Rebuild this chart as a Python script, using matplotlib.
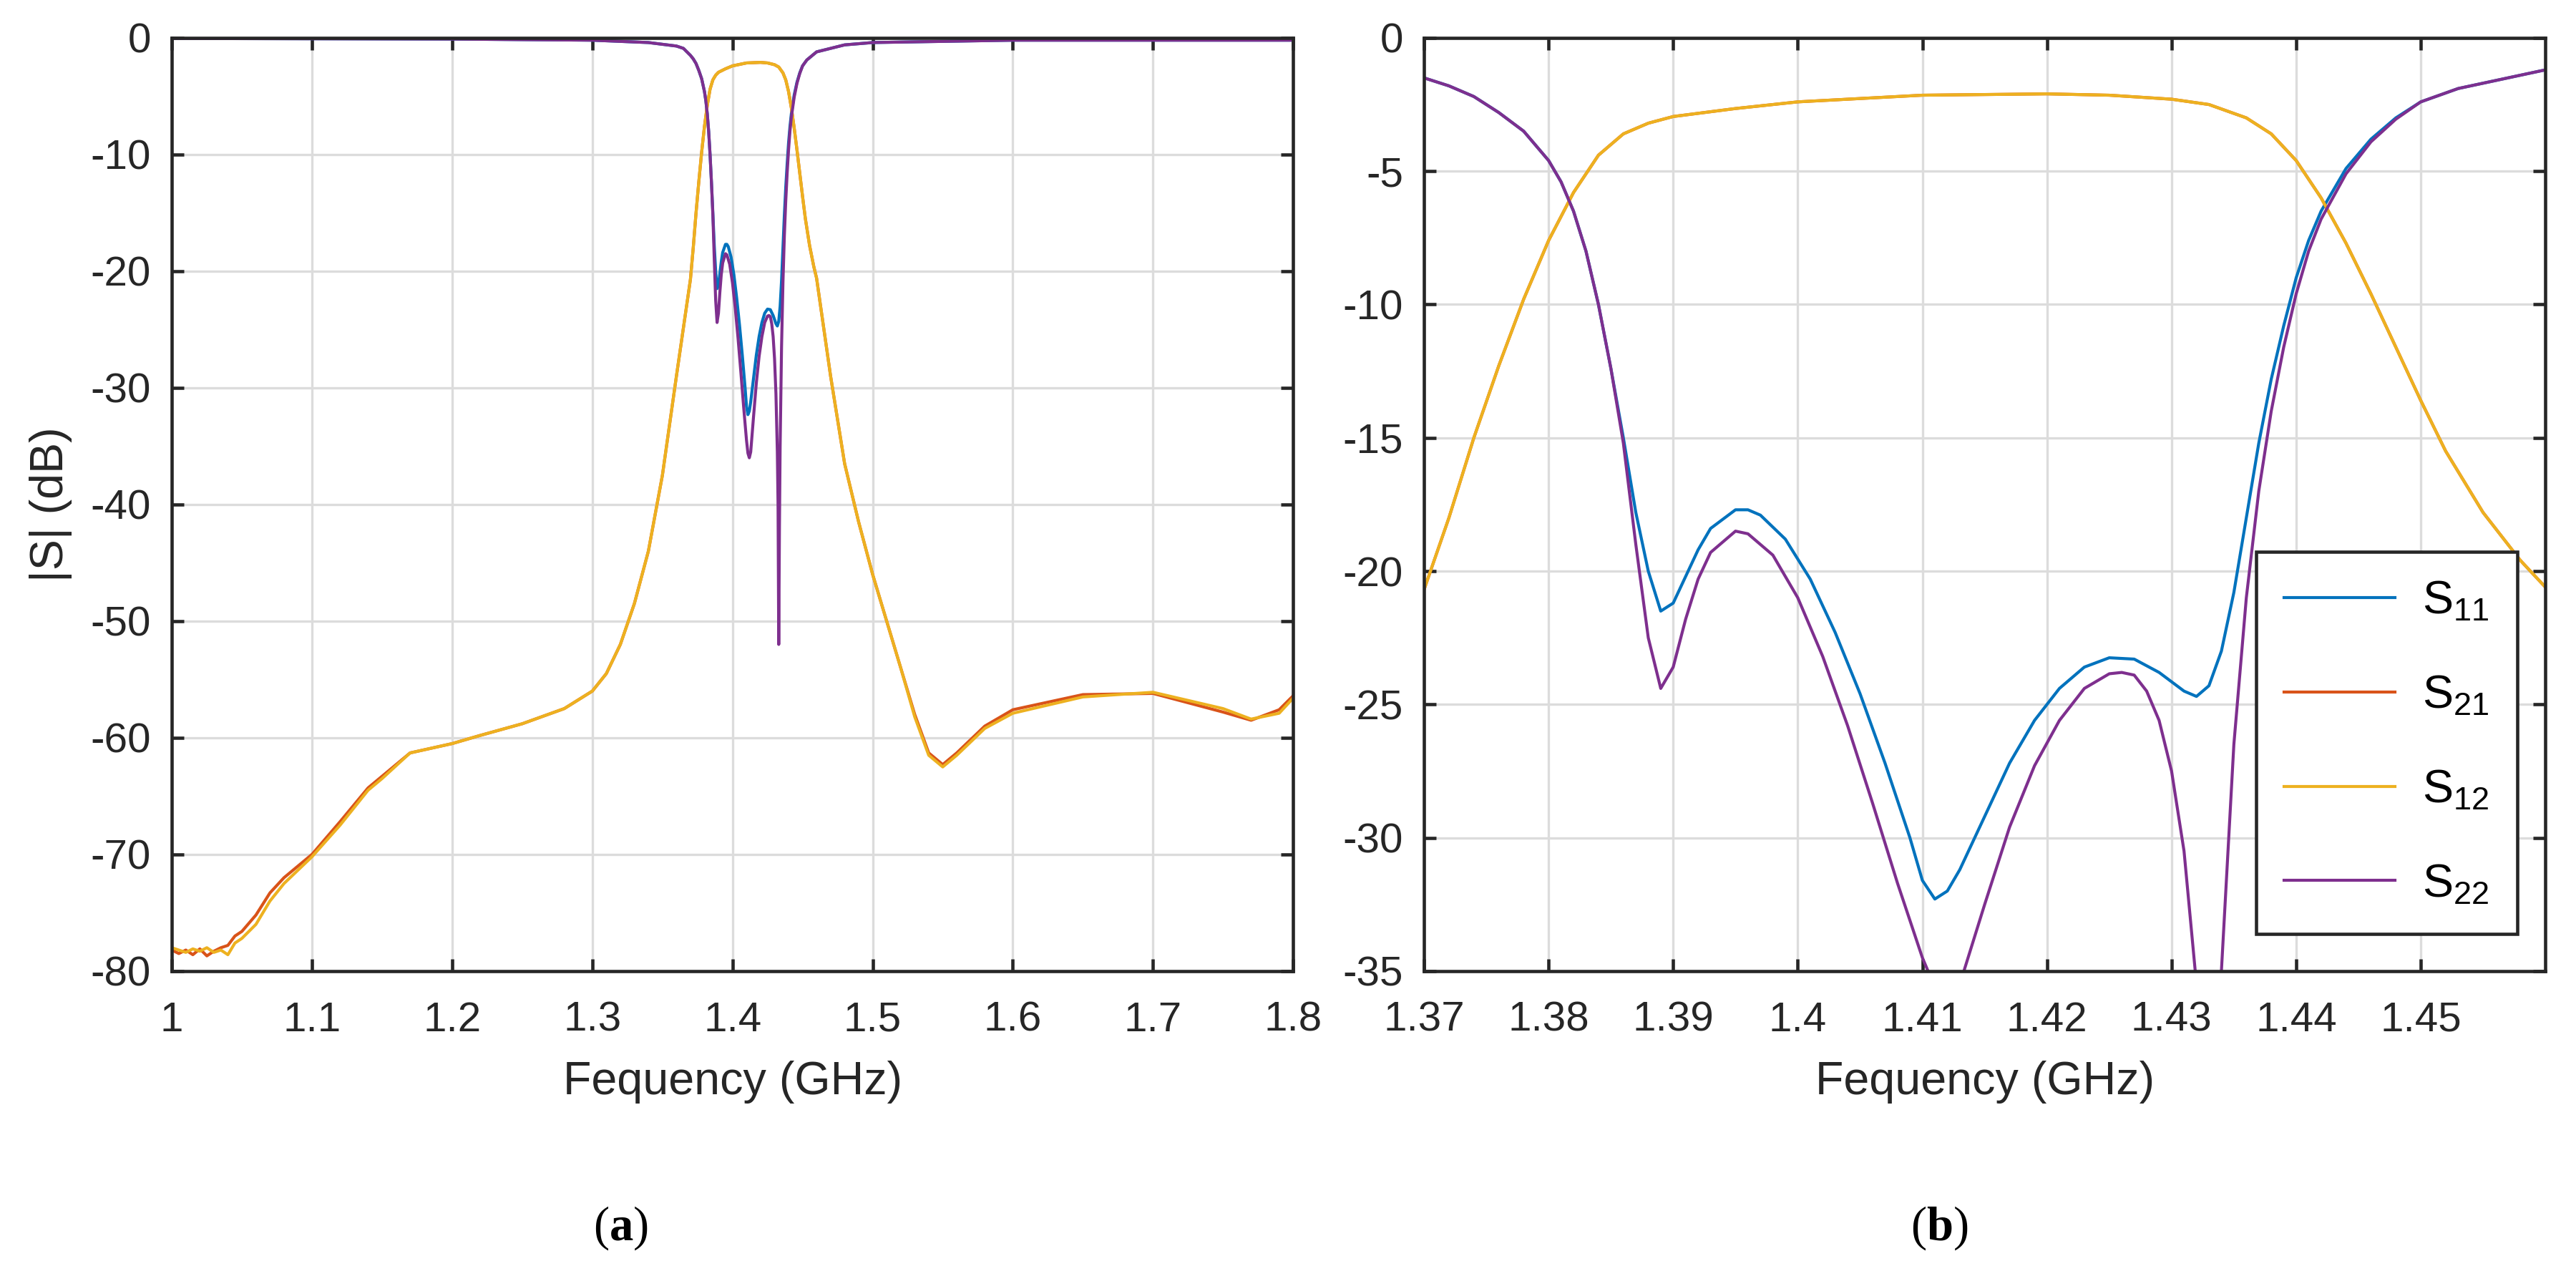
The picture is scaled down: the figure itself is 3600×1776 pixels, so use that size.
import numpy as np
import matplotlib
matplotlib.use("Agg")
import matplotlib.pyplot as plt

plt.rcParams['font.family'] = ['Liberation Sans', 'DejaVu Sans']
plt.rcParams['mathtext.fontset'] = 'custom'
plt.rcParams['mathtext.rm'] = 'Liberation Sans'
plt.rcParams['mathtext.bf'] = 'Liberation Serif:bold'

# transmission data (GHz, dB)
f_trans = [1.0, 1.005, 1.01, 1.015, 1.02, 1.025, 1.03, 1.035, 1.04, 1.045, 1.05, 1.06, 1.07, 1.08, 1.1, 1.12, 1.14, 1.15, 1.17, 1.2, 1.22, 1.25, 1.28, 1.3,
           1.31, 1.32, 1.33, 1.34, 1.35, 1.36,
           1.37, 1.372, 1.374, 1.376, 1.378, 1.38, 1.382, 1.384, 1.386, 1.388, 1.39, 1.395, 1.40, 1.41, 1.42, 1.425,
           1.43, 1.433, 1.436, 1.438, 1.44, 1.442, 1.444, 1.446, 1.448, 1.45, 1.452, 1.455, 1.458, 1.46,
           1.47, 1.48, 1.49, 1.5, 1.52, 1.53, 1.54, 1.55, 1.56, 1.58, 1.6, 1.65, 1.7, 1.75, 1.77, 1.79, 1.8]
s21 = [-78.2, -78.5, -78.2, -78.6, -78.1, -78.7, -78.3, -78.0, -77.8, -77.0, -76.6, -75.2, -73.3, -72.0, -70.0, -67.2, -64.3, -63.3, -61.3, -60.5, -59.8, -58.8, -57.5, -56.0,
       -54.5, -52.0, -48.5, -44.0, -37.5, -29.0,
       -20.7, -18.0, -15.0, -12.3, -9.8, -7.6, -5.8, -4.4, -3.6, -3.2, -2.95, -2.65, -2.4, -2.15, -2.1, -2.15,
       -2.3, -2.5, -3.0, -3.6, -4.6, -6.0, -7.7, -9.6, -11.6, -13.6, -15.5, -17.8, -19.6, -20.6,
       -29.0, -36.5, -41.5, -46.0, -54.0, -58.0, -61.3, -62.3, -61.3, -59.0, -57.6, -56.3, -56.2, -57.8, -58.5, -57.6, -56.4]
s12 = [-78.0, -78.2, -78.4, -78.1, -78.3, -78.0, -78.4, -78.2, -78.6, -77.6, -77.2, -76.0, -74.0, -72.5, -70.2, -67.5, -64.5, -63.5, -61.3, -60.5, -59.8, -58.8, -57.5, -56.0,
       -54.5, -52.0, -48.5, -44.0, -37.5, -29.0,
       -20.7, -18.0, -15.0, -12.3, -9.8, -7.6, -5.8, -4.4, -3.6, -3.2, -2.95, -2.65, -2.4, -2.15, -2.1, -2.15,
       -2.3, -2.5, -3.0, -3.6, -4.6, -6.0, -7.7, -9.6, -11.6, -13.6, -15.5, -17.8, -19.6, -20.6,
       -29.0, -36.5, -41.5, -46.0, -54.0, -58.2, -61.5, -62.5, -61.5, -59.2, -57.9, -56.5, -56.1, -57.5, -58.4, -57.9, -56.6]

# reflection data
f_s11 = [1.0, 1.2, 1.3, 1.34, 1.36, 1.365,
         1.37, 1.372, 1.374, 1.376, 1.378, 1.38, 1.381, 1.382, 1.383, 1.384, 1.385, 1.386, 1.387, 1.388, 1.389, 1.390,
         1.391, 1.392, 1.393, 1.395, 1.396, 1.397, 1.399, 1.401, 1.403, 1.405, 1.407, 1.409, 1.410, 1.411, 1.412, 1.413,
         1.415, 1.417, 1.419, 1.421, 1.423, 1.425, 1.427, 1.429, 1.431, 1.432, 1.433, 1.434, 1.435, 1.436, 1.437, 1.438,
         1.439, 1.440, 1.441, 1.442, 1.444, 1.446, 1.448, 1.45, 1.453, 1.456, 1.46, 1.48, 1.5, 1.6, 1.8]
s11 = [-0.05, -0.1, -0.2, -0.4, -0.7, -0.9,
       -1.5, -1.8, -2.2, -2.8, -3.5, -4.6, -5.4, -6.5, -8.0, -10.0, -12.4, -15.0, -17.8, -20.0, -21.5, -21.2,
       -20.2, -19.2, -18.4, -17.7, -17.7, -17.9, -18.8, -20.3, -22.3, -24.6, -27.2, -30.0, -31.6, -32.3, -32.0, -31.2,
       -29.2, -27.2, -25.6, -24.4, -23.6, -23.25, -23.3, -23.8, -24.5, -24.7, -24.3, -23.0, -20.8, -18.0, -15.2, -12.8,
       -10.8, -9.0, -7.6, -6.5, -4.9, -3.8, -3.0, -2.4, -1.9, -1.6, -1.2, -0.6, -0.4, -0.2, -0.2]
f_s22 = [1.0, 1.2, 1.3, 1.34, 1.36, 1.365,
         1.37, 1.372, 1.374, 1.376, 1.378, 1.38, 1.381, 1.382, 1.383, 1.384, 1.385, 1.386, 1.387, 1.388, 1.389, 1.390,
         1.391, 1.392, 1.393, 1.395, 1.396, 1.398, 1.400, 1.402, 1.404, 1.406, 1.408, 1.410, 1.411, 1.412, 1.413,
         1.415, 1.417, 1.419, 1.421, 1.423, 1.425, 1.426, 1.427, 1.428, 1.429, 1.430, 1.431, 1.432, 1.4325, 1.433, 1.4335,
         1.434, 1.435, 1.436, 1.437, 1.438, 1.439, 1.440, 1.441, 1.442, 1.444, 1.446, 1.448, 1.45, 1.453, 1.456, 1.46,
         1.48, 1.5, 1.6, 1.8]
s22 = [-0.05, -0.1, -0.2, -0.4, -0.7, -0.9,
       -1.5, -1.8, -2.2, -2.8, -3.5, -4.6, -5.4, -6.5, -8.0, -10.0, -12.4, -15.2, -19.0, -22.5, -24.4, -23.6,
       -21.8, -20.3, -19.3, -18.5, -18.6, -19.4, -21.0, -23.2, -25.8, -28.7, -31.7, -34.5, -35.6, -36.0, -35.5,
       -32.5, -29.6, -27.3, -25.6, -24.4, -23.85, -23.8, -23.9, -24.5, -25.6, -27.5, -30.5, -35.5, -40.0, -52.0, -42.0,
       -35.0, -26.5, -21.0, -17.0, -14.0, -11.6, -9.6, -8.0, -6.8, -5.1, -3.9, -3.05, -2.4, -1.9, -1.6, -1.2,
       -0.6, -0.4, -0.2, -0.2]

colors = ['#0072BD', '#D95319', '#EDB120', '#7E2F8E']
labels = [r'S$_{11}$', r'S$_{21}$', r'S$_{12}$', r'S$_{22}$']

fig = plt.figure(figsize=(12, 5.92), dpi=300)
ax1 = fig.add_axes([0.0667, 0.236, 0.4353, 0.7342])
ax2 = fig.add_axes([0.5528, 0.236, 0.4353, 0.7342])

series = [(f_s11, s11), (f_trans, s21), (f_trans, s12), (f_s22, s22)]
for ax in (ax1, ax2):
    for (x, y), c, l in zip(series, colors, labels):
        ax.plot(x, y, color=c, lw=1.0, label=l)
    ax.grid(True, color='#dcdcdc', lw=0.8)
    ax.set_axisbelow(True)
    for s in ax.spines.values():
        s.set_color('#262626'); s.set_linewidth(1.1)
    ax.tick_params(direction='in', length=4, width=1.1, color='#262626', labelcolor='#262626', labelsize=14,
                   top=True, right=True)
    ax.tick_params(axis='x', pad=10)
    ax.tick_params(axis='y', pad=7)
    ax.set_xlabel('Fequency (GHz)', fontsize=15.5, color='#262626', labelpad=7)

ax1.set_xlim(1.0, 1.8); ax1.set_ylim(-80, 0)
ax1.set_xticks(np.arange(1.0, 1.81, 0.1)); ax1.set_xticklabels(['1', '1.1', '1.2', '1.3', '1.4', '1.5', '1.6', '1.7', '1.8'])
ax1.set_yticks(np.arange(-80, 1, 10)); ax1.set_yticklabels([str(v) for v in range(-80, 1, 10)])
ax1.set_ylabel('|S| (dB)', fontsize=15.5, color='#262626', labelpad=6)

ax2.set_xlim(1.37, 1.46); ax2.set_ylim(-35, 0)
ax2.set_xticks([1.37, 1.38, 1.39, 1.40, 1.41, 1.42, 1.43, 1.44, 1.45])
ax2.set_xticklabels(['1.37', '1.38', '1.39', '1.4', '1.41', '1.42', '1.43', '1.44', '1.45'])
ax2.set_yticks(np.arange(-35, 1, 5)); ax2.set_yticklabels([str(v) for v in range(-35, 1, 5)])
leg = ax2.legend(loc='lower right', bbox_to_anchor=(0.975, 0.04), fontsize=15.5, frameon=True, fancybox=False,
                 edgecolor='#262626', handlelength=2.4, handletextpad=0.6, labelspacing=1.1, borderpad=0.6,
                 borderaxespad=0.0, framealpha=1)
leg.get_frame().set_linewidth(1.1)

fig.text(0.2408, 0.0242, r'($\mathbf{a}$)', ha='center', va='baseline', fontsize=16, family='Liberation Serif')
fig.text(0.7528, 0.0242, r'($\mathbf{b}$)', ha='center', va='baseline', fontsize=16, family='Liberation Serif')
fig.savefig('out.png', dpi=300)
